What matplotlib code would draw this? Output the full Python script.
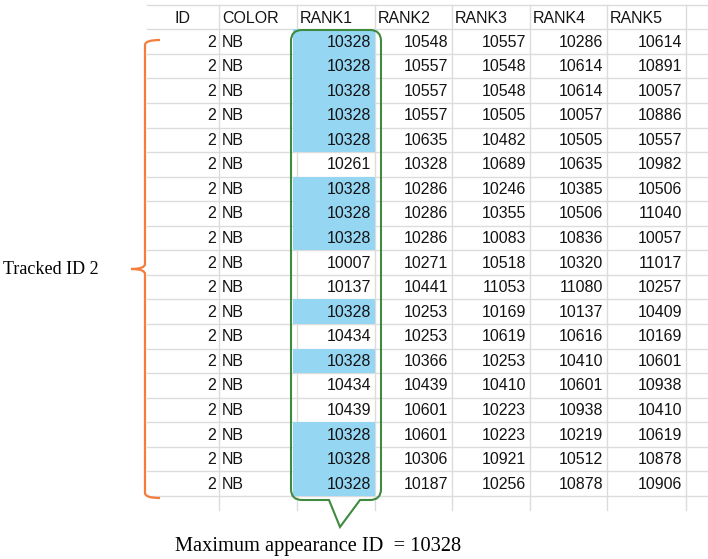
import matplotlib
matplotlib.use("Agg")
import matplotlib.pyplot as plt
from matplotlib import font_manager
from matplotlib.path import Path
from matplotlib.patches import PathPatch, Rectangle

# ── data ──────────────────────────────────────────────────────────────────────
headers = ["ID", "COLOR", "RANK1", "RANK2", "RANK3", "RANK4", "RANK5"]
ids = [2] * 19
colors = ["NB"] * 19
rank1 = [10328, 10328, 10328, 10328, 10328, 10261, 10328, 10328, 10328, 10007,
         10137, 10328, 10434, 10328, 10434, 10439, 10328, 10328, 10328]
rank2 = [10548, 10557, 10557, 10557, 10635, 10328, 10286, 10286, 10286, 10271,
         10441, 10253, 10253, 10366, 10439, 10601, 10601, 10306, 10187]
rank3 = [10557, 10548, 10548, 10505, 10482, 10689, 10246, 10355, 10083, 10518,
         11053, 10169, 10619, 10253, 10410, 10223, 10223, 10921, 10256]
rank4 = [10286, 10614, 10614, 10057, 10505, 10635, 10385, 10506, 10836, 10320,
         11080, 10137, 10616, 10410, 10601, 10938, 10219, 10512, 10878]
rank5 = [10614, 10891, 10057, 10886, 10557, 10982, 10506, 11040, 10057, 11017,
         10257, 10409, 10169, 10601, 10938, 10410, 10619, 10878, 10906]
max_id = 10328
bracket_label = "Tracked ID 2"
bottom_label = f"Maximum appearance ID  = {max_id}"

# ── layout (pixel space, y downwards) ─────────────────────────────────────────
W, H = 708, 559
col_edges = [141, 219, 297, 375, 452, 530, 607, 686]
top_y = 5
head_bot = 29.3
row_h = 24.56
grid_c = "#dcdcdc"
txt_c = "#141414"
blue = "#95d6f3"
green = "#3f8a3f"
orange = "#f47c3c"

avail = {f.name for f in font_manager.fontManager.ttflist}
if "Liberation Sans Narrow" in avail:
    cell_font, cell_size = "Liberation Sans Narrow", 12.5
else:
    cell_font, cell_size = "Liberation Sans", 11.5

fig = plt.figure(figsize=(W / 100, H / 100), dpi=100)
ax = fig.add_axes([0, 0, 1, 1])
ax.set_xlim(0, W)
ax.set_ylim(H, 0)
ax.axis("off")

n = len(rank1)
table_bot = head_bot + n * row_h

# grid
for y in [top_y, head_bot] + [head_bot + (i + 1) * row_h for i in range(n)]:
    ax.plot([147, W], [y, y], color=grid_c, lw=1, zorder=1)
for x in col_edges[1:]:
    ax.plot([x, x], [top_y, table_bot + 14], color=grid_c, lw=1, zorder=1)

# highlight cells holding the most frequent id
for i, v in enumerate(rank1):
    if v == max_id:
        ax.add_patch(Rectangle((293, head_bot + i * row_h), 375 - 293, row_h,
                               facecolor=blue, edgecolor="none", zorder=2))

# headers
hx = [175] + [e + 3 for e in col_edges[1:7]]
for x, h in zip(hx, headers):
    ax.text(x, (top_y + head_bot) / 2 + 1, h, ha="left", va="center",
            family=cell_font, fontsize=cell_size, color=txt_c, zorder=3)

# cells
for i in range(n):
    yc = head_bot + (i + 0.5) * row_h + 0.5
    ax.text(col_edges[1] - 3, yc, str(ids[i]), ha="right", va="center",
            family=cell_font, fontsize=cell_size, color=txt_c, zorder=3)
    ax.text(col_edges[1] + 3, yc, colors[i], ha="left", va="center",
            family=cell_font, fontsize=cell_size, color=txt_c, zorder=3)
    for j, col in enumerate([rank1, rank2, rank3, rank4, rank5]):
        ax.text(col_edges[j + 3] - 4, yc, str(col[i]), ha="right", va="center",
                family=cell_font, fontsize=cell_size, color=txt_c, zorder=3)

# callout bubble
L, R, T, B, r = 291, 381, 30, 500, 11
verts = [(L + r, T), (R - r, T), (R, T), (R, T + r), (R, B - r), (R, B), (R - r, B),
         (360, B), (340, 527), (329, B), (L + r, B), (L, B), (L, B - r),
         (L, T + r), (L, T), (L + r, T)]
codes = [Path.MOVETO, Path.LINETO, Path.CURVE3, Path.CURVE3, Path.LINETO,
         Path.CURVE3, Path.CURVE3, Path.LINETO, Path.LINETO, Path.LINETO,
         Path.LINETO, Path.CURVE3, Path.CURVE3, Path.LINETO, Path.CURVE3,
         Path.CURVE3]
ax.add_patch(PathPatch(Path(verts, codes), facecolor="none", edgecolor=green,
                       lw=1.5, zorder=4))

# bracket
bx, bt, bb, bm = 145, 40, 498, 269
bverts = [(160, bt), (bx, bt), (bx, bt + 5), (bx, bm - 5), (bx, bm), (131, bm),
          (bx, bm), (bx, bm + 5), (bx, bb - 5), (bx, bb), (160, bb)]
bcodes = [Path.MOVETO, Path.CURVE3, Path.CURVE3, Path.LINETO, Path.CURVE3,
          Path.CURVE3, Path.CURVE3, Path.CURVE3, Path.LINETO, Path.CURVE3,
          Path.CURVE3]
ax.add_patch(PathPatch(Path(bverts, bcodes), facecolor="none", edgecolor=orange,
                       lw=1.6, zorder=4))

ax.text(3, bm, bracket_label, ha="left", va="center", family="Liberation Serif",
        fontsize=13, color="black")
ax.text(175, 547, bottom_label, ha="left", va="center", family="Liberation Serif",
        fontsize=14.7, color="black")

fig.savefig("out.png", dpi=100)
